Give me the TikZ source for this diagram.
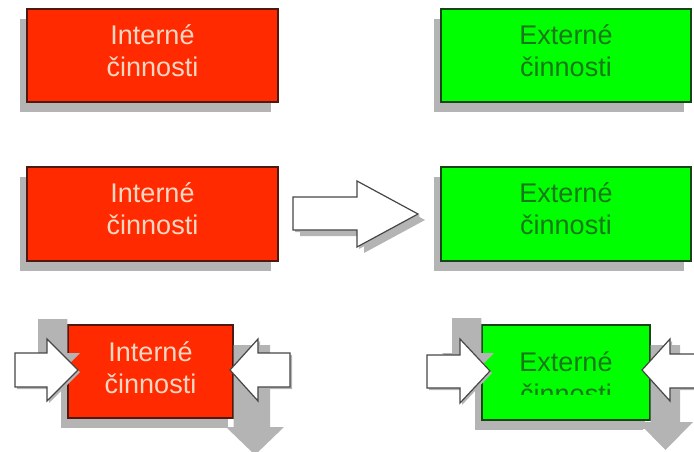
\documentclass[tikz,border=0pt]{standalone}
\usepackage{fontspec}
\setmainfont{Liberation Sans}
\usetikzlibrary{shadows}

\definecolor{boxred}{RGB}{255,42,0}
\definecolor{redline}{RGB}{80,25,15}
\definecolor{redtext}{RGB}{250,215,195}
\definecolor{boxgreen}{RGB}{0,255,0}
\definecolor{greenline}{RGB}{20,70,20}
\definecolor{greentext}{RGB}{25,120,25}
\definecolor{shadowgray}{RGB}{180,180,180}
\definecolor{arrowline}{RGB}{70,70,70}

\tikzset{
  actbox/.style={line width=1.2pt, inner sep=0pt,
    drop shadow={shadow xshift=-7pt, shadow yshift=-10pt, opacity=1, fill=shadowgray}},
  redbox/.style={actbox, draw=redline, fill=boxred},
  greenbox/.style={actbox, draw=greenline, fill=boxgreen},
  boxtext/.style={align=center, inner sep=0pt, font=\fontsize{27}{32}\selectfont},
  redtext/.style={boxtext, text=redtext},
  greentext/.style={boxtext, text=greentext},
  whitearrow/.style={draw=arrowline, fill=white, line width=1.2pt, line join=miter,
    drop shadow={shadow xshift=2pt, shadow yshift=-2pt, opacity=1, fill=shadowgray}},
  flowarrow/.style={whitearrow,
    drop shadow={shadow xshift=7pt, shadow yshift=-6pt, opacity=1, fill=shadowgray}}
}

\begin{document}
\begin{tikzpicture}[x=1pt,y=-1pt]
\useasboundingbox (0,0) rectangle (694,452);

% first row
\node[redbox, minimum width=251pt, minimum height=93pt] (int1) at (152.5,55.5) {};
\node[greenbox, minimum width=250pt, minimum height=93pt] (ext1) at (566,55.5) {};
\node[redtext] (int1t) at ([yshift=5pt]int1.center) {Interné\\činnosti};
\node[greentext] (ext1t) at ([yshift=5pt]ext1.center) {Externé\\činnosti};

% second row
\node[redbox, minimum width=251pt, minimum height=94pt] (int2) at (152.5,214) {};
\node[greenbox, minimum width=250pt, minimum height=94pt] (ext2) at (566,214) {};
\node[redtext] (int2t) at ([yshift=5pt]int2.center) {Interné\\činnosti};
\node[greentext] (ext2t) at ([yshift=5pt]ext2.center) {Externé\\činnosti};
\draw[flowarrow] (293,197) -- (357,197) -- (357,181) -- (418,214) -- (357,247) -- (357,230) -- (293,230) -- cycle;

% third row
\node[redbox, minimum width=165pt, minimum height=93pt,
  drop shadow={shadow xshift=-5pt, shadow yshift=-10pt, opacity=1, fill=shadowgray}] (int3) at (150.5,371.5) {};
\node[greenbox, minimum width=168pt, minimum height=95pt,
  drop shadow={shadow xshift=-5pt, shadow yshift=-9pt, opacity=1, fill=shadowgray}] (ext3) at (566,372.5) {};
\node[redtext] (int3t) at ([yshift=4pt]int3.center) {Interné\\činnosti};
\begin{scope}
\clip (482,325) rectangle (650,394);
\node[greentext] (ext3t) at ([yshift=-5pt]ext3.center) {Externé\\činnosti};
\end{scope}

\fill[shadowgray] (38,319) -- (67.4,319) -- (67.4,353) -- (80,353) -- (54,379) -- (28,353) -- (38,353) -- cycle;
\fill[shadowgray] (233.6,345) -- (270,345) -- (270,427) -- (284,427) -- (255,455) -- (226,427) -- (233.6,427) -- cycle;
\fill[shadowgray] (452,318) -- (481.4,318) -- (481.4,353) -- (494,353) -- (468,379) -- (442,353) -- (452,353) -- cycle;
\fill[shadowgray] (650.6,345) -- (680,345) -- (680,422) -- (693,422) -- (665.5,450) -- (638,422) -- (650.6,422) -- cycle;

\draw[whitearrow] (15,353) -- (47,353) -- (47,339) -- (78,370) -- (47,401) -- (47,387) -- (15,387) -- cycle;
\draw[whitearrow] (290,353) -- (258,353) -- (258,339) -- (230,370) -- (258,401) -- (258,387) -- (290,387) -- cycle;
\draw[whitearrow] (427,355) -- (460,355) -- (460,339) -- (490,371) -- (460,403) -- (460,388) -- (427,388) -- cycle;
\draw[whitearrow] (698,354) -- (670,354) -- (670,339) -- (642,370) -- (670,401) -- (670,388) -- (698,388) -- cycle;
\end{tikzpicture}
\end{document}
